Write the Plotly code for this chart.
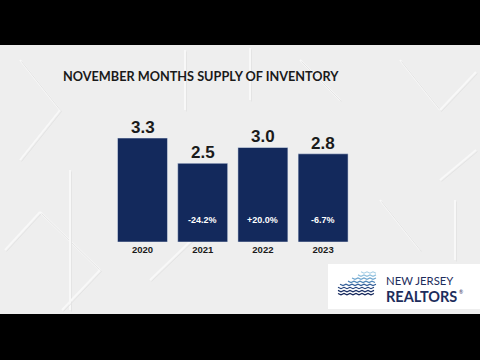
import plotly.graph_objects as go

years = ["2020", "2021", "2022", "2023"]
values = [3.3, 2.5, 3.0, 2.8]
value_labels = ["3.3", "2.5", "3.0", "2.8"]
change_labels = ["", "-24.2%", "+20.0%", "-6.7%"]
title_text = "NOVEMBER MONTHS SUPPLY OF INVENTORY"

W, H = 480, 360
def px(x):
    return x / W
def py(y):
    return 1 - y / H

NAVY = "#13295c"
GRAY = "#eeeeee"
pos = list(range(len(years)))

fig = go.Figure()
fig.add_trace(go.Bar(
    x=pos, y=values, marker=dict(color=NAVY),
    hoverinfo="skip", width=0.83,
))

shapes = []
shapes.append(dict(type="rect", xref="paper", yref="paper", x0=-0.01, x1=1.01, y0=py(314), y1=py(45),
                   fillcolor=GRAY, line=dict(width=0), layer="below"))
shapes.append(dict(type="rect", xref="paper", yref="paper", x0=-0.01, x1=1.01, y0=py(45), y1=1.01,
                   fillcolor="black", line=dict(width=0), layer="below"))
shapes.append(dict(type="rect", xref="paper", yref="paper", x0=-0.01, x1=1.01, y0=-0.01, y1=py(314),
                   fillcolor="black", line=dict(width=0), layer="below"))
tex = [(20, 60, 60, 110), (60, 110, 20, 160), (5, 250, 40, 212), (40, 212, 100, 270),
       (70, 170, 70, 310), (100, 270, 62, 310), (400, 60, 440, 110), (440, 110, 476, 72),
       (440, 180, 476, 150), (150, 280, 200, 232), (380, 200, 420, 250), (250, 48, 250, 100),
       (300, 60, 340, 100), (455, 200, 455, 260), (185, 50, 185, 110)]
for x0, y0, x1, y1 in tex:
    shapes.append(dict(type="line", xref="paper", yref="paper", x0=px(x0), y0=py(y0), x1=px(x1), y1=py(y1),
                       line=dict(color="#f8f8f8", width=2), layer="below"))
    shapes.append(dict(type="line", xref="paper", yref="paper", x0=px(x0 + 1.5), y0=py(y0 + 1.5),
                       x1=px(x1 + 1.5), y1=py(y1 + 1.5),
                       line=dict(color="#e4e4e4", width=1), layer="below"))
shapes.append(dict(type="rect", xref="paper", yref="paper", x0=px(328), x1=1.01, y0=py(309), y1=py(264),
                   fillcolor="white", line=dict(width=0), layer="above"))
wave_cols = ["#a8d0e6", "#8fc0de", "#6fa6cf", "#4f86b8", "#34609a", "#22407a", "#192f66", "#14265a"]
wave_x0 = [361, 358, 352, 348, 340, 338, 338, 338]
for i in range(8):
    y = 272 + 3.1 * i
    pts = []
    x = wave_x0[i]
    k = 0
    while x <= 376:
        pts.append((x, y + (1.2 if k % 2 else -0.2)))
        x += 3
        k += 1
    d = "M " + " L ".join(f"{px(a):.5f},{py(b):.5f}" for a, b in pts)
    shapes.append(dict(type="path", xref="paper", yref="paper", path=d,
                       line=dict(color=wave_cols[i], width=1.2), layer="above"))

annotations = []
annotations.append(dict(text="<b>" + title_text + "</b>", xref="paper", yref="paper", x=px(61), y=py(76),
                        xanchor="left", yanchor="middle", showarrow=False,
                        font=dict(family="Lato", size=12.7, color="#1a1a1a")))
for p, v, lab, ch in zip(pos, values, value_labels, change_labels):
    annotations.append(dict(text=f"<b>{lab}</b>", x=p, y=v, xref="x", yref="y",
                            yanchor="bottom", showarrow=False, yshift=-1,
                            font=dict(family="Liberation Sans", size=17, color="#1a1a1a")))
    if ch:
        annotations.append(dict(text=f"<b>{ch}</b>", x=p, y=0, xref="x", yref="y",
                                yanchor="middle", showarrow=False, yshift=22,
                                font=dict(family="Liberation Sans", size=9, color="white")))
annotations.append(dict(text="NEW JERSEY", xref="paper", yref="paper", x=px(385), y=py(287.5),
                        xanchor="left", yanchor="bottom", showarrow=False, borderpad=0,
                        font=dict(family="Lato", size=11.3, color="#1d2d5c")))
annotations.append(dict(text="<b>REALTORS</b>", xref="paper", yref="paper", x=px(385), y=py(287),
                        xanchor="left", yanchor="top", showarrow=False, borderpad=0,
                        font=dict(family="Lato", size=14.5, color="#1d2d5c")))
annotations.append(dict(text="®", xref="paper", yref="paper", x=px(457.5), y=py(287.5),
                        xanchor="left", yanchor="top", showarrow=False, borderpad=0,
                        font=dict(family="Lato", size=5, color="#1d2d5c")))

fig.update_layout(
    width=W, height=H, margin=dict(l=0, r=0, t=0, b=0), autosize=False,
    paper_bgcolor=GRAY, plot_bgcolor="rgba(0,0,0,0)",
    showlegend=False,
    shapes=shapes, annotations=annotations,
    xaxis=dict(domain=[112.4 / W, 353.2 / W], range=[-0.5, 3.5], showgrid=False, zeroline=False,
               showline=False, ticks="", tickvals=pos, ticktext=[f"<b>{y}</b>" for y in years],
               tickfont=dict(family="Liberation Sans", size=9.5, color="#1a1a1a")),
    yaxis=dict(domain=[py(242), py(131.75)], range=[0, 3.5], visible=False),
)

fig.write_html("out.html", config={"displayModeBar": False})
